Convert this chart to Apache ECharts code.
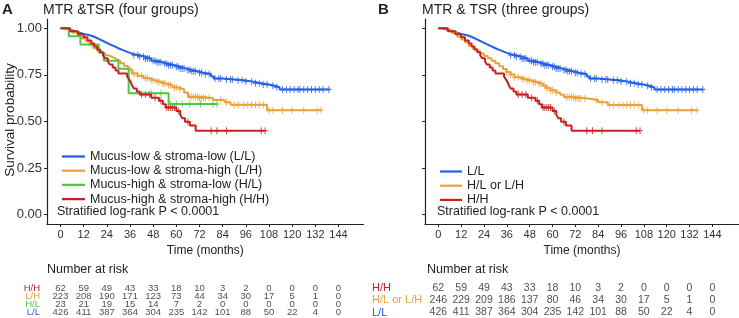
<!DOCTYPE html>
<html>
<head>
<meta charset="utf-8">
<script src="https://cdn.jsdelivr.net/npm/echarts@6/dist/echarts.min.js"></script>
<style>
  html, body { margin: 0; padding: 0; background: #fff; }
  #chart { width: 739px; height: 318px; }
</style>
</head>
<body>
<div id="chart"></div>
<script>
// ticks
const timeTicks = [0, 12, 24, 36, 48, 60, 72, 84, 96, 108, 120, 132, 144]
const survTicks = [0, 0.25, 0.5, 0.75, 1]

// KM step points [months, survival after drop]
const kmLL = [[0, 1], [2, 0.995], [4, 0.99], [6, 0.983], [8, 0.976], [10, 0.97], [12, 0.965], [14, 0.96], [16, 0.952],
  [18, 0.942], [20, 0.932], [22, 0.922], [24, 0.912], [26, 0.903], [28, 0.893], [30, 0.884], [32, 0.876], [34, 0.868],
  [36, 0.861], [38, 0.856], [41, 0.848], [44, 0.838], [47, 0.826], [50, 0.818], [53, 0.81], [56, 0.802], [59, 0.794],
  [62, 0.785], [65, 0.777], [68, 0.77], [71, 0.762], [74, 0.755], [78, 0.742], [79.5, 0.731], [84, 0.726], [90, 0.721],
  [95, 0.714], [100, 0.705], [104, 0.698], [108, 0.692], [111, 0.684], [113.5, 0.672]]
const kmLH = [[0, 1], [3, 0.99], [6, 0.978], [9, 0.96], [11, 0.945], [13, 0.93], [15, 0.912], [17, 0.893], [19, 0.88],
  [21, 0.868], [23, 0.855], [25, 0.845], [27, 0.835], [29, 0.825], [31, 0.812], [33, 0.798], [35, 0.78], [37, 0.758],
  [40, 0.745], [43, 0.732], [46, 0.722], [49, 0.713], [52, 0.704], [55, 0.695], [58, 0.683], [61, 0.673], [64, 0.655],
  [66, 0.633], [72, 0.626], [79, 0.615], [85, 0.603], [88, 0.59], [107, 0.561]]
const kmHL = [[0, 1], [4.3, 0.957], [10.3, 0.913], [19.8, 0.87], [22.5, 0.826], [30, 0.783], [35.3, 0.652], [56, 0.594]]
const kmHH = [[0, 1], [5, 0.984], [9, 0.968], [12, 0.952], [14, 0.935], [16, 0.919], [17.5, 0.903], [19, 0.887],
  [20.5, 0.871], [22, 0.855], [23, 0.839], [24.5, 0.823], [25.5, 0.806], [27, 0.79], [28.5, 0.774], [30, 0.758],
  [34.5, 0.742], [35.5, 0.726], [36.5, 0.71], [37, 0.694], [38, 0.677], [39.5, 0.661], [41, 0.645], [47, 0.628],
  [51, 0.611], [53, 0.593], [54.5, 0.575], [60, 0.556], [62, 0.537], [63, 0.518], [64.5, 0.499], [67, 0.478], [70, 0.451]]
const kmMix = [[0, 1], [4, 0.99], [7, 0.975], [10, 0.955], [12, 0.94], [14, 0.925], [16, 0.905], [18, 0.89], [20, 0.877],
  [22, 0.865], [24, 0.852], [26, 0.84], [28, 0.826], [30, 0.812], [32, 0.797], [34, 0.782], [36, 0.766], [38, 0.752],
  [40, 0.738], [43, 0.728], [46, 0.72], [49, 0.712], [52, 0.703], [55, 0.692], [57, 0.68], [59, 0.668], [62, 0.655],
  [64, 0.643], [66, 0.631], [72, 0.624], [78.5, 0.615], [84, 0.603], [89, 0.588], [107, 0.561]]

// censoring times (months)
const censLL = [38, 40, 41, 43, 44, 45, 46, 48, 49, 50, 51, 52, 54, 55, 56, 57, 58, 60, 61, 62, 63, 64, 66, 67, 68, 69,
  70, 72, 73, 75, 77, 80, 82, 83, 86, 88, 89, 92, 94, 96, 99, 101, 103, 105, 107, 110, 112, 115, 117, 119, 121, 123,
  124, 126, 128, 130, 132, 134, 136, 139]
const censLH = [36, 38, 40, 42, 44, 45, 47, 48, 50, 51, 53, 54, 56, 57, 59, 60, 62, 67, 68, 69, 70, 71, 72, 73, 74, 75,
  77, 83, 86, 90, 92, 95, 97, 99, 101, 103, 105, 108, 110, 115, 120, 126, 133, 135]
const censHL = [47, 52, 57, 60, 63, 67, 72.5, 79, 81]
const censHH = [42, 44, 46, 49, 52, 55, 56, 57, 58, 59, 61, 66, 78, 81, 86, 104, 106]
const censMix = [36, 38, 40, 42, 44, 45, 47, 48, 50, 51, 53, 54, 56, 57, 59, 60, 62, 67, 68, 69, 70, 71, 72, 73, 74,
  75, 77, 83, 86, 90, 92, 95, 97, 99, 101, 103, 105, 108, 110, 115, 120, 126, 133, 136]

// number at risk
const riskRowsA = ["H/H", "L/H", "H/L", "L/L"]
const riskA = [
  [62, 59, 49, 43, 33, 18, 10, 3, 2, 0, 0, 0, 0],
  [223, 208, 190, 171, 123, 73, 44, 34, 30, 17, 5, 1, 0],
  [23, 21, 19, 15, 14, 7, 2, 0, 0, 0, 0, 0, 0],
  [426, 411, 387, 364, 304, 235, 142, 101, 88, 50, 22, 4, 0],
]
const riskRowsB = ["H/H", "H/L or L/H", "L/L"]
const riskB = [
  [62, 59, 49, 43, 33, 18, 10, 3, 2, 0, 0, 0, 0],
  [246, 229, 209, 186, 137, 80, 46, 34, 30, 17, 5, 1, 0],
  [426, 411, 387, 364, 304, 235, 142, 101, 88, 50, 22, 4, 0],
]

const BLUE = "#2461e6"
const ORANGE = "#e9a23b"
const GREEN = "#4fc743"
const RED = "#c92020"
const FONT = "Liberation Sans, Arial, sans-serif"
const PLUS = "path://M4,0h2v4h4v2h-4v4h-2v-4h-4v-2h4z"
const DASH = "path://M0,0h10v1h-10z"

const survAt = (curve, t) => {
  let s = 1
  curve.forEach((p) => { if (p[0] <= t) s = p[1] })
  return s
}

const kmSeries = (name, curve, cens, color, idx) => {
  const end = Math.max(...cens)
  return [
    {
      name: name,
      type: "line",
      step: "end",
      xAxisIndex: idx,
      yAxisIndex: idx,
      symbol: "none",
      color: color,
      lineStyle: { width: 2, color: color },
      data: curve.concat([[end, survAt(curve, end)]]),
      silent: true,
    },
    {
      type: "scatter",
      xAxisIndex: idx,
      yAxisIndex: idx,
      symbol: PLUS,
      symbolSize: [5, 7],
      itemStyle: { color: color },
      data: cens.map((t) => [t, survAt(curve, t)]),
      silent: true,
    },
  ]
}

const riskSeries = (rows, table, idx, fontSize) => ({
  type: "scatter",
  xAxisIndex: idx,
  yAxisIndex: idx,
  symbolSize: 0,
  silent: true,
  label: {
    show: true,
    position: "inside",
    fontSize: fontSize,
    fontFamily: FONT,
    color: "#222",
    formatter: (p) => String(p.value[2]),
  },
  data: table.flatMap((r, i) => r.map((n, j) => [timeTicks[j], rows[i], n])),
})

const plotX = (idx, min, max) => ({
  gridIndex: idx,
  type: "value",
  min: min,
  max: max,
  name: "Time (months)",
  nameLocation: "middle",
  nameGap: 18,
  nameTextStyle: { fontSize: 12, color: "#222", fontFamily: FONT },
  axisLine: { onZero: false, lineStyle: { color: "#222", width: 1.2 } },
  axisTick: { show: true, length: 3, customValues: timeTicks, lineStyle: { color: "#222" } },
  axisLabel: { customValues: timeTicks, fontSize: 11, color: "#333", margin: 5, fontFamily: FONT },
  splitLine: { show: false },
})

const plotY = (idx, labels) => ({
  gridIndex: idx,
  type: "value",
  min: -0.05,
  max: 1.05,
  axisLine: { show: true, onZero: false, lineStyle: { color: "#222", width: 1.2 } },
  axisTick: { show: true, length: 3, customValues: survTicks, lineStyle: { color: "#222" } },
  axisLabel: {
    show: labels,
    customValues: survTicks,
    fontSize: 13,
    color: "#333",
    margin: 5,
    fontFamily: FONT,
    formatter: (v) => v.toFixed(2),
  },
  splitLine: { show: false },
})

const tableX = (idx, min, max) => ({ gridIndex: idx, type: "value", min: min, max: max, show: false })

const rowColor = { "H/H": RED, "L/H": ORANGE, "H/L": GREEN, "L/L": BLUE, "H/L or L/H": ORANGE }

const tableY = (idx, rows, fontSize, align, margin) => ({
  gridIndex: idx,
  type: "category",
  data: rows,
  inverse: true,
  boundaryGap: false,
  axisLine: { show: false },
  axisTick: { show: false },
  axisLabel: {
    interval: 0,
    fontSize: fontSize,
    fontFamily: FONT,
    align: align,
    margin: margin,
    color: (v) => rowColor[v],
  },
})

const legendNamesA = [
  "Mucus-low & stroma-low (L/L)",
  "Mucus-low & stroma-high (L/H)",
  "Mucus-high & stroma-low (H/L)",
  "Mucus-high & stroma-high (H/H)",
]
const legendNamesB = ["L/L", "H/L or L/H", "H/H"]

const chart = echarts.init(document.getElementById("chart"))

const txt = (x, y, text, size, extra) => ({
  type: "text",
  x: x,
  y: y,
  style: Object.assign({ text: text, fontSize: size, fontFamily: FONT, fill: "#222", verticalAlign: "middle" }, extra || {}),
})

const legendBase = {
  orient: "vertical",
  icon: DASH,
  itemHeight: 2.4,
  itemGap: 1.2,
  textStyle: { fontSize: 12.5, color: "#222", fontFamily: FONT, lineHeight: 12.8 },
}

chart.setOption({
  animation: false,
  backgroundColor: "#fff",
  grid: [
    { left: 47, top: 19, width: 316.6, height: 205 },
    { left: 425, top: 19, width: 314, height: 205 },
    { left: 47, top: 288, width: 316.6, height: 24 },
    { left: 425, top: 288, width: 314, height: 25 },
  ],
  xAxis: [plotX(0, -7, 157), plotX(1, -7, 158), tableX(2, -7, 157), tableX(3, -7, 158)],
  yAxis: [
    plotY(0, true),
    plotY(1, false),
    tableY(2, riskRowsA, 9.5, "right", 7),
    tableY(3, riskRowsB, 11, "left", 53),
  ],
  legend: [
    Object.assign({ data: legendNamesA, left: 57, top: 145, itemWidth: 23 }, legendBase),
    Object.assign({ data: legendNamesB, left: 435, top: 160, itemWidth: 22 }, legendBase),
  ],
  graphic: [
    txt(2, 10, "A", 15, { fontWeight: "bold" }),
    txt(43, 10, "MTR &TSR (four groups)", 14),
    txt(378, 10, "B", 15, { fontWeight: "bold" }),
    txt(422, 10, "MTR & TSR (three groups)", 14),
    txt(57, 212, "Stratified log-rank P < 0.0001", 12.5),
    txt(437, 212, "Stratified log-rank P < 0.0001", 12.5),
    txt(47, 270, "Number at risk", 12.5),
    txt(427, 270, "Number at risk", 12.5),
    {
      type: "text",
      x: 10,
      y: 120,
      rotation: Math.PI / 2,
      style: { text: "Survival probability", fontSize: 13.5, fontFamily: FONT, fill: "#222", align: "center", verticalAlign: "middle" },
    },
  ],
  series: [
    ...kmSeries(legendNamesA[0], kmLL, censLL, BLUE, 0),
    ...kmSeries(legendNamesA[1], kmLH, censLH, ORANGE, 0),
    ...kmSeries(legendNamesA[2], kmHL, censHL, GREEN, 0),
    ...kmSeries(legendNamesA[3], kmHH, censHH, RED, 0),
    ...kmSeries(legendNamesB[0], kmLL, censLL, BLUE, 1),
    ...kmSeries(legendNamesB[1], kmMix, censMix, ORANGE, 1),
    ...kmSeries(legendNamesB[2], kmHH, censHH, RED, 1),
    riskSeries(riskRowsA, riskA, 2, 9.5),
    riskSeries(riskRowsB, riskB, 3, 10.5),
  ],
})
</script>
</body>
</html>
